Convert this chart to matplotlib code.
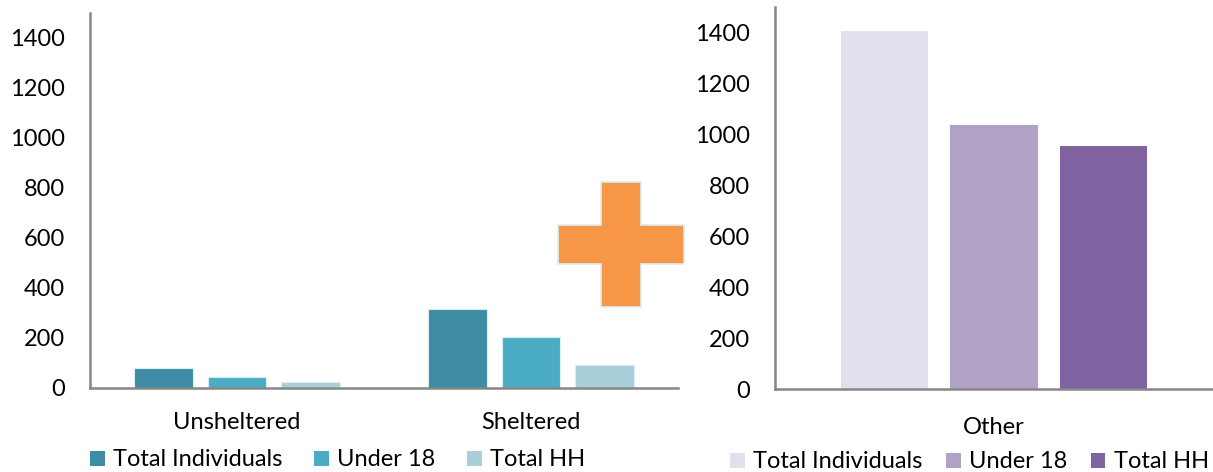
import matplotlib
matplotlib.use("Agg")
import matplotlib.pyplot as plt
import numpy as np
from matplotlib.patches import Polygon, Patch

plt.rcParams["font.family"] = ["Lato", "DejaVu Sans"]

series = ["Total Individuals", "Under 18", "Total HH"]

left_categories = ["Unsheltered", "Sheltered"]
left_total_individuals = [80, 316]
left_under_18 = [46, 204]
left_total_hh = [24, 91]

right_categories = ["Other"]
right_total_individuals = [1405]
right_under_18 = [1035]
right_total_hh = [953]

left_colors = ["#3E8CA3", "#4BACC6", "#A9CFDB"]
right_colors = ["#E4DFEC", "#B2A1C7", "#8064A2"]

W, H = 1213, 472
FS = 17
fig = plt.figure(figsize=(W / 100, H / 100), dpi=100)


def px_axes(x0, y_top, x1, y_bottom):
    return fig.add_axes([x0 / W, (H - y_bottom) / H, (x1 - x0) / W, (y_bottom - y_top) / H])


def draw_group(ax, categories, values, colors, edge):
    x = np.arange(len(categories))
    width = 0.2
    for i, (vals, col) in enumerate(zip(values, colors)):
        ax.bar(x + (i - 1) * 0.25, vals, width, color=col, edgecolor=edge,
               linewidth=0.8, label=series[i])
    ax.set_xlim(-0.5, len(categories) - 0.5)
    ax.set_ylim(0, 1500)
    ax.set_yticks(np.arange(0, 1401, 200))
    ax.set_xticks(x)
    ax.set_xticklabels(categories, fontsize=FS)
    ax.tick_params(axis="y", length=0, pad=18, labelsize=FS)
    ax.tick_params(axis="x", length=0, pad=17)
    for s in ["top", "right"]:
        ax.spines[s].set_visible(False)
    for s in ["left", "bottom"]:
        ax.spines[s].set_color("#868686")
        ax.spines[s].set_linewidth(1.8)


ax1 = px_axes(90, 13, 678, 388)
draw_group(ax1, left_categories, [left_total_individuals, left_under_18, left_total_hh],
           left_colors, "#DAEEF3")

ax2 = px_axes(775, 7, 1213, 389)
draw_group(ax2, right_categories, [right_total_individuals, right_under_18, right_total_hh],
           right_colors, "none")
ax2.tick_params(axis="x", pad=20)


def legend(ax, colors, x_anchor, y_anchor, spacing):
    handles = [Patch(facecolor=c, edgecolor="none") for c in colors]
    ax.legend(handles, series, loc="center left", bbox_to_anchor=(x_anchor / W, 1 - y_anchor / H),
              bbox_transform=fig.transFigure, ncol=3, frameon=False, fontsize=FS,
              handlelength=0.62, handleheight=0.62, handletextpad=0.35,
              columnspacing=spacing, borderpad=0, borderaxespad=0)


legend(ax1, left_colors, 90, 460, 1.35)
legend(ax2, right_colors, 730, 462, 1.0)

# orange plus sign drawn over the gap between the two charts
plus = [(601, 182), (641, 182), (641, 225), (684, 225), (684, 264), (641, 264), (641, 307),
        (601, 307), (601, 264), (558, 264), (558, 225), (601, 225)]
fig.patches.append(Polygon([(x / W, 1 - y / H) for x, y in plus], closed=True,
                           transform=fig.transFigure, facecolor="#F79646",
                           edgecolor="#DAEEF3", linewidth=1.2, zorder=5))

fig.savefig("out.png", dpi=100)
